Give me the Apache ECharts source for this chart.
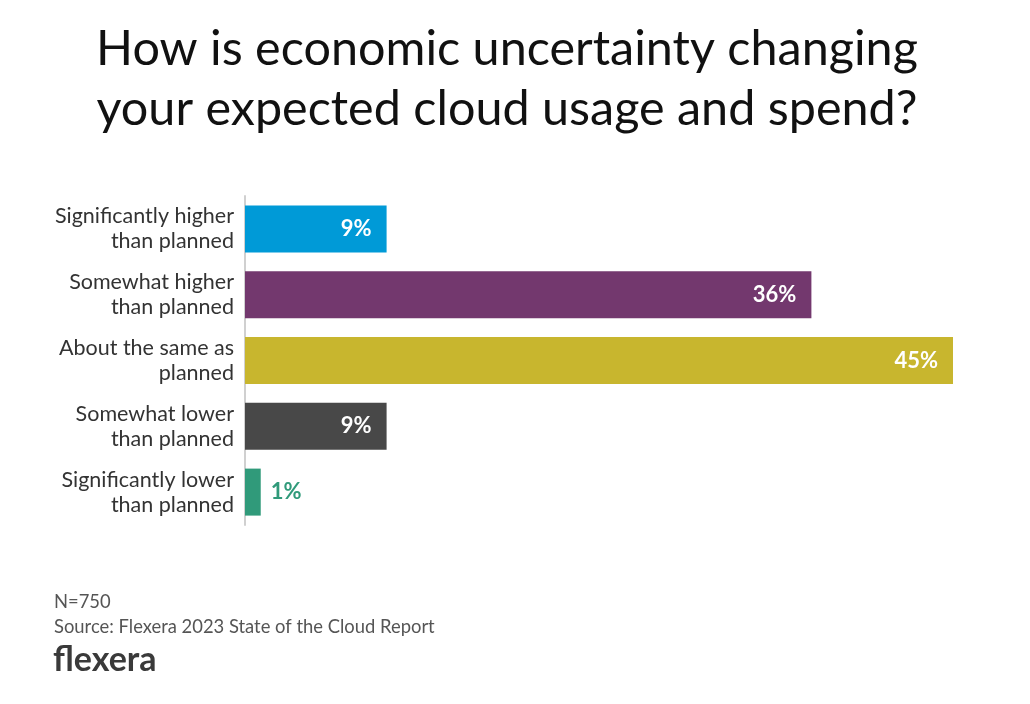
<!DOCTYPE html>
<html>
<head>
<meta charset="utf-8">
<script src="https://cdn.jsdelivr.net/npm/echarts@6/dist/echarts.min.js"></script>
<style>
html,body{margin:0;padding:0;background:#fff;}
#chart{width:1030px;height:704px;}
</style>
</head>
<body>
<div id="chart"></div>
<script>
const titleText = "How is economic uncertainty changing\nyour expected cloud usage and spend?";
const categories = [
  "Significantly higher\nthan planned",
  "Somewhat higher\nthan planned",
  "About the same as\nplanned",
  "Somewhat lower\nthan planned",
  "Significantly lower\nthan planned"
];
const values = [9, 36, 45, 9, 1];
const barColors = ["#009AD7", "#73386E", "#C8B62E", "#484848", "#309A7A"];
const footnoteN = "N=750";
const footnoteSource = "Source: Flexera 2023 State of the Cloud Report";
const logoText = "flexera";

const FONT = "Lato, 'Noto Sans', sans-serif";
const chart = echarts.init(document.getElementById('chart'));

const data = values.map((v, i) => {
  const outside = v < 5;
  return {
    value: v,
    itemStyle: { color: barColors[i] },
    label: outside
      ? { position: 'right', distance: 10, color: barColors[i] }
      : { position: 'insideRight', distance: 15, color: '#ffffff' }
  };
});

chart.setOption({
  backgroundColor: '#ffffff',
  animation: false,
  title: {
    text: titleText,
    left: 502,
    top: 14,
    textAlign: 'center',
    textStyle: {
      fontFamily: FONT,
      fontSize: 48.5,
      fontWeight: 'normal',
      color: '#111111',
      lineHeight: 60
    }
  },
  grid: { left: 245, right: 77, top: 196, height: 329, containLabel: false },
  xAxis: {
    type: 'value',
    min: 0,
    max: 45,
    show: false
  },
  yAxis: {
    type: 'category',
    data: categories,
    inverse: true,
    axisLine: { show: true, lineStyle: { color: '#d0d0d0', width: 2 } },
    axisTick: { show: false },
    axisLabel: {
      fontFamily: FONT,
      fontSize: 21.5,
      color: '#333333',
      lineHeight: 25,
      margin: 11,
      align: 'right'
    }
  },
  series: [{
    type: 'bar',
    data: data,
    barWidth: 47,
    label: {
      show: true,
      formatter: '{c}%',
      fontFamily: FONT,
      fontSize: 22,
      fontWeight: 'bold'
    }
  }],
  graphic: [
    { type: 'text', left: 54, top: 593, style: { text: footnoteN, fontFamily: FONT, fontSize: 18.4, fill: '#555555' } },
    { type: 'text', left: 54, top: 618, style: { text: footnoteSource, fontFamily: FONT, fontSize: 18.4, fill: '#555555' } },
    { type: 'text', left: 53, top: 643, style: { text: logoText, fontFamily: FONT, fontSize: 34, fontWeight: 'bold', fill: '#3a3a3a' } }
  ]
});
</script>
</body>
</html>
